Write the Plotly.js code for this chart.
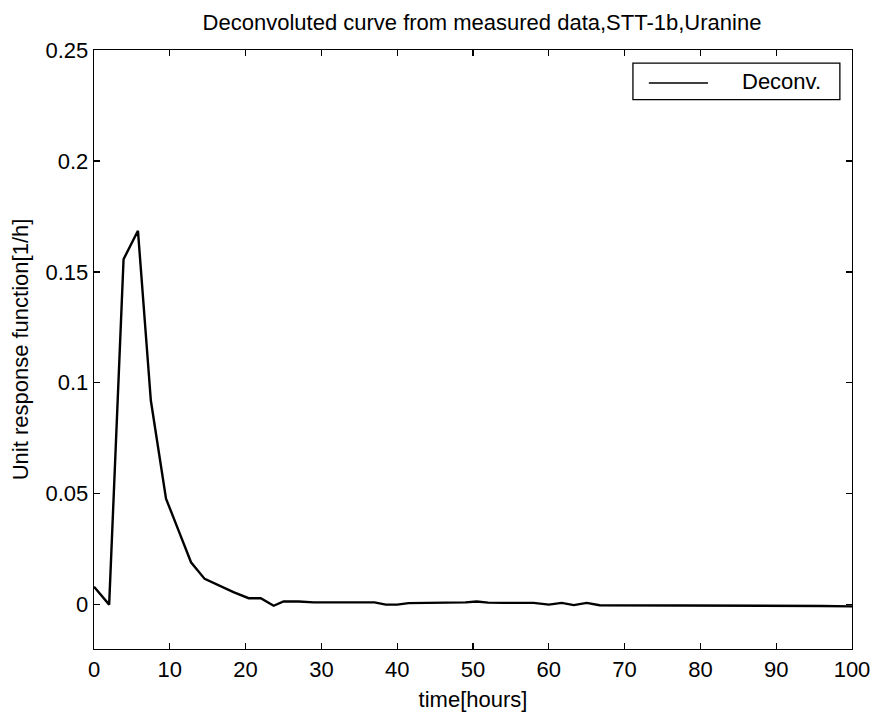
<!DOCTYPE html>
<html>
<head>
<meta charset="utf-8">
<script src="https://cdn.plot.ly/plotly-3.0.1.min.js"></script>
<style>html,body{margin:0;padding:0;background:#fff;}#chart{width:874px;height:712px;}</style>
</head>
<body>
<div id="chart"></div>
<script>
// Data
var timeHours = [0, 2, 3.9, 5.8, 7.5, 9.5, 11.2, 12.8, 14.6, 16.5, 18.4, 20.4, 22.0, 23.7, 25.0, 27, 29, 31, 33, 35, 37, 38.5, 40, 41.5, 43, 45, 47, 49, 50.5, 52, 54, 56, 58, 60, 61.7, 63.3, 65, 66.7, 69, 72, 75, 78, 81, 84, 87, 90, 93, 96, 100];
var unitResponse = [0.0081, 0.0, 0.1557, 0.1685, 0.092, 0.0478, 0.033, 0.0191, 0.0116, 0.0085, 0.0056, 0.0029, 0.0029, -0.0005, 0.0014, 0.0014, 0.001, 0.001, 0.001, 0.001, 0.001, 0.0, 0.0, 0.0007, 0.0008, 0.0008, 0.0008, 0.001, 0.0014, 0.0009, 0.0008, 0.0008, 0.0008, 0.0, 0.0008, -0.0002, 0.0008, -0.0003, -0.0003, -0.0003, -0.0004, -0.0004, -0.0004, -0.0005, -0.0005, -0.0005, -0.0006, -0.0006, -0.0008];
var xTicks = [0, 10, 20, 30, 40, 50, 60, 70, 80, 90, 100];
var yTicks = [0, 0.05, 0.1, 0.15, 0.2, 0.25];
var yTickLabels = ['0', '0.05', '0.1', '0.15', '0.2', '0.25'];
var seriesName = 'Deconv.';

var font = {family: 'Liberation Sans, Arial, sans-serif', size: 22, color: '#000'};

var trace = {
  x: timeHours, y: unitResponse, type: 'scatter', mode: 'lines',
  name: seriesName, line: {color: '#000', width: 2.4}, showlegend: false
};

var axisCommon = {
  showline: true, linecolor: '#000', linewidth: 1.3, mirror: 'ticks',
  ticks: 'inside', ticklen: 6, tickwidth: 1.3, tickcolor: '#000',
  showgrid: false, zeroline: false, tickfont: font, automargin: false
};

var layout = {
  width: 874, height: 712,
  margin: {l: 94, r: 22, t: 50, b: 63},
  paper_bgcolor: '#fff', plot_bgcolor: '#fff',
  font: font,
  title: {text: 'Deconvoluted curve from measured data,STT-1b,Uranine', font: {family: font.family, size: 22, color: '#000'}, x: 0.5515, xanchor: 'center', y: 0.969, yanchor: 'middle'},
  xaxis: Object.assign({}, axisCommon, {
    range: [0, 100], tickvals: xTicks, ticktext: xTicks.map(String),
    title: {text: 'time[hours]', font: font, standoff: 11}
  }),
  yaxis: Object.assign({}, axisCommon, {
    range: [-0.02, 0.25], tickvals: yTicks, ticktext: yTickLabels,
    title: {text: 'Unit response function[1/h]', font: font, standoff: 10}
  }),
  shapes: [
    {type: 'rect', xref: 'paper', yref: 'paper', x0: 0.711, x1: 0.984, y0: 0.917, y1: 0.978, line: {color: '#000', width: 1.3}, fillcolor: '#fff'},
    {type: 'line', xref: 'paper', yref: 'paper', x0: 0.732, x1: 0.810, y0: 0.945, y1: 0.945, line: {color: '#000', width: 1.5}}
  ],
  annotations: [
    {text: seriesName, xref: 'paper', yref: 'paper', x: 0.962, y: 0.947, xanchor: 'right', yanchor: 'middle', showarrow: false, font: font}
  ]
};

Plotly.newPlot('chart', [trace], layout, {displayModeBar: false, staticPlot: true});
</script>
</body>
</html>
